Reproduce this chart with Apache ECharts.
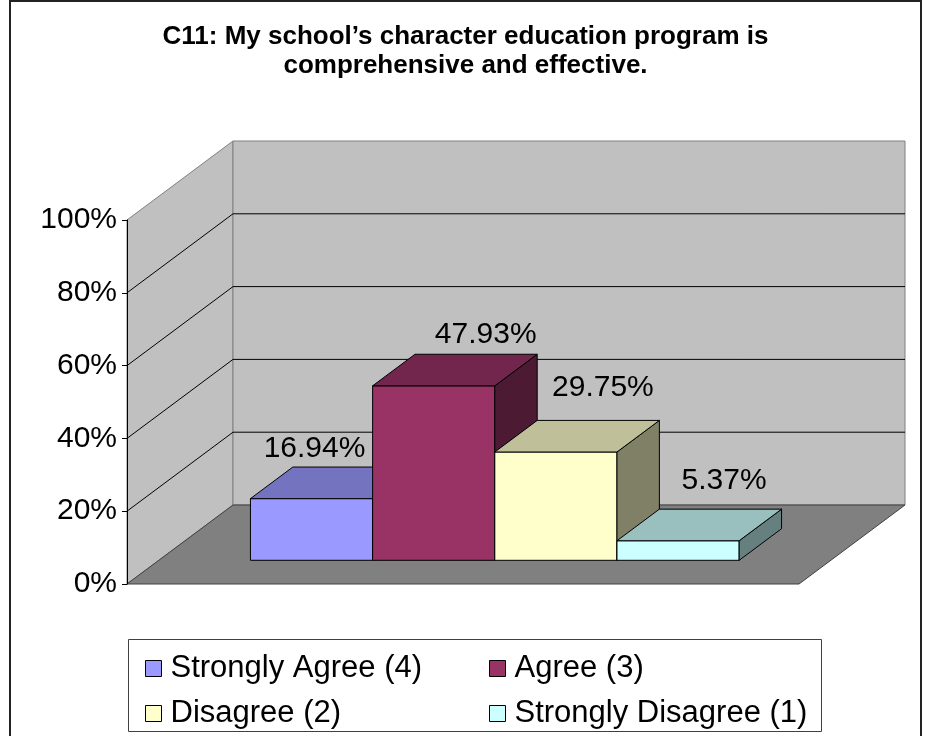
<!DOCTYPE html>
<html>
<head lang="en">
	<meta charset="UTF-8">
	<title>C11</title>
	<script type="text/javascript" src="https://cdn.jsdelivr.net/npm/echarts@6/dist/echarts.min.js"></script>
	<style>
		html, body { margin: 0; padding: 0; background: #fff; }
		#chart { width: 931px; height: 736px; }
	</style>
</head>
<body>
<div id="chart"></div>
<script>
var titleText = 'C11: My school\u2019s character education program is\ncomprehensive and effective.';
var categories = ['C11'];
var seriesNames = ['Strongly Agree (4)', 'Agree (3)', 'Disagree (2)', 'Strongly Disagree (1)'];
var seriesValues = [16.94, 47.93, 29.75, 5.37];
var yTicks = [0, 20, 40, 60, 80, 100];

//box colours: front / top / side
var frontColors = ['#9999FF', '#993366', '#FFFFCC', '#CCFFFF'];
var topColors = ['#7373BF', '#73264D', '#BFBF99', '#99BFBF'];
var sideColors = ['#4D4D80', '#4D1A33', '#808066', '#668080'];
//label offset from the front-top centre of each box
var labelOffsets = [[3, -50], [52, -51], [47, -64], [46, -60]];

var DX = 106, DY = -79;          //depth of the floor in pixels
var BAR_FRONT = 0.3, BAR_BACK = 0.7;
var GAP = 1.5;                   //gap width 150%
var FONT = '"Liberation Sans", Arial, sans-serif';

/**walls, floor and gridlines**/
function renderWalls(params, api) {
	var cs = params.coordSys;
	var x0 = cs.x, x1 = cs.x + cs.width;
	var yb = api.coord([0, yTicks[0]])[1];
	var yt = api.coord([0, yTicks[yTicks.length - 1]])[1];
	var children = [];
	children.push({
		type: 'polygon',
		shape: {points: [[x0, yb], [x0, yt], [x0 + DX, yt + DY], [x0 + DX, yb + DY]]},
		style: {fill: '#C0C0C0', stroke: '#808080', lineWidth: 1}
	});
	children.push({
		type: 'rect',
		shape: {x: x0 + DX, y: yt + DY, width: x1 - x0, height: yb - yt},
		style: {fill: '#C0C0C0', stroke: '#808080', lineWidth: 1}
	});
	children.push({
		type: 'polygon',
		shape: {points: [[x0, yb], [x1, yb], [x1 + DX, yb + DY], [x0 + DX, yb + DY]]},
		style: {fill: '#808080', stroke: '#404040', lineWidth: 1}
	});
	for (var i = 1; i < yTicks.length - 1; i++) {
		var y = api.coord([0, yTicks[i]])[1];
		children.push({
			type: 'polyline',
			shape: {points: [[x0, y], [x0 + DX, y + DY], [x1 + DX, y + DY]]},
			style: {stroke: '#000', lineWidth: 1, fill: null}
		});
	}
	return {type: 'group', children: children};
}

/**one 3d box per series**/
function makeBar(si) {
	return function (params, api) {
		var base = api.coord([api.value(0), 0]);
		var topPt = api.coord([api.value(0), api.value(1)]);
		var band = api.size([1, 0])[0];
		var n = seriesNames.length;
		var barW = band / (n + GAP);
		var left = base[0] - barW * n / 2 + si * barW + BAR_FRONT * DX;
		var right = left + barW;
		var yBot = base[1] + BAR_FRONT * DY;
		var yTop = topPt[1] + BAR_FRONT * DY;
		var dx = (BAR_BACK - BAR_FRONT) * DX, dy = (BAR_BACK - BAR_FRONT) * DY;
		var edge = {stroke: '#000', lineWidth: 1};
		return {
			type: 'group',
			children: [
				{
					type: 'polygon',
					shape: {points: [[left, yBot], [left, yTop], [right, yTop], [right, yBot]]},
					style: Object.assign({fill: frontColors[si]}, edge)
				},
				{
					type: 'polygon',
					shape: {points: [[right, yTop], [right + dx, yTop + dy], [right + dx, yBot + dy], [right, yBot]]},
					style: Object.assign({fill: sideColors[si]}, edge)
				},
				{
					type: 'polygon',
					shape: {points: [[left, yTop], [left + dx, yTop + dy], [right + dx, yTop + dy], [right, yTop]]},
					style: Object.assign({fill: topColors[si]}, edge)
				},
				{
					type: 'text',
					x: (left + right) / 2 + labelOffsets[si][0],
					y: yTop + labelOffsets[si][1],
					style: {
						text: api.value(1).toFixed(2) + '%',
						fill: '#000',
						fontSize: 30,
						fontFamily: FONT,
						align: 'center',
						verticalAlign: 'middle'
					}
				}
			]
		};
	};
}

var series = [{
	type: 'custom',
	renderItem: renderWalls,
	data: [[0, 0]],
	clip: false,
	silent: true,
	z: 1
}];
for (var i = 0; i < seriesNames.length; i++) {
	series.push({
		type: 'custom',
		name: seriesNames[i],
		renderItem: makeBar(i),
		data: [[0, seriesValues[i]]],
		encode: {x: 0, y: 1},
		itemStyle: {color: frontColors[i]},
		clip: false,
		silent: true,
		z: 3
	});
}

var legendCommon = {
	orient: 'vertical',
	top: 648,
	icon: 'rect',
	itemWidth: 16,
	itemHeight: 16,
	itemGap: 14,
	selectedMode: false,
	itemStyle: {borderColor: '#000', borderWidth: 1},
	textStyle: {fontSize: 31, fontFamily: FONT, color: '#000', lineHeight: 31, padding: [0, 0, 0, 4]}
};

var myChart = echarts.init(document.getElementById('chart'), null, {renderer: 'canvas'});
var option = {
	animation: false,
	backgroundColor: '#fff',
	title: {
		text: titleText,
		left: 'center',
		top: 17,
		textStyle: {fontSize: 26, fontWeight: 'bold', fontFamily: FONT, color: '#000', lineHeight: 29}
	},
	grid: {left: 127, top: 220, width: 672, height: 364},
	xAxis: {type: 'category', data: categories, show: false},
	yAxis: {
		type: 'value',
		min: 0,
		max: 100,
		interval: 20,
		z: 5,
		axisLine: {show: true, lineStyle: {color: '#000', width: 1}},
		axisTick: {show: true, length: 5, lineStyle: {color: '#000'}},
		axisLabel: {formatter: '{value}%', fontSize: 30, fontFamily: FONT, color: '#000', margin: 10},
		splitLine: {show: false}
	},
	legend: [
		Object.assign({left: 140, data: [seriesNames[0], seriesNames[2]]}, legendCommon),
		Object.assign({left: 484, data: [seriesNames[1], seriesNames[3]]}, legendCommon)
	],
	graphic: [
		{type: 'rect', shape: {x: 10, y: 1, width: 911, height: 760}, style: {fill: null, stroke: '#222', lineWidth: 2}, silent: true},
		{type: 'rect', shape: {x: 128.5, y: 639.5, width: 693, height: 92}, style: {fill: null, stroke: '#404040', lineWidth: 1}, silent: true}
	],
	series: series
};
myChart.setOption(option);
</script>
</body>
</html>
